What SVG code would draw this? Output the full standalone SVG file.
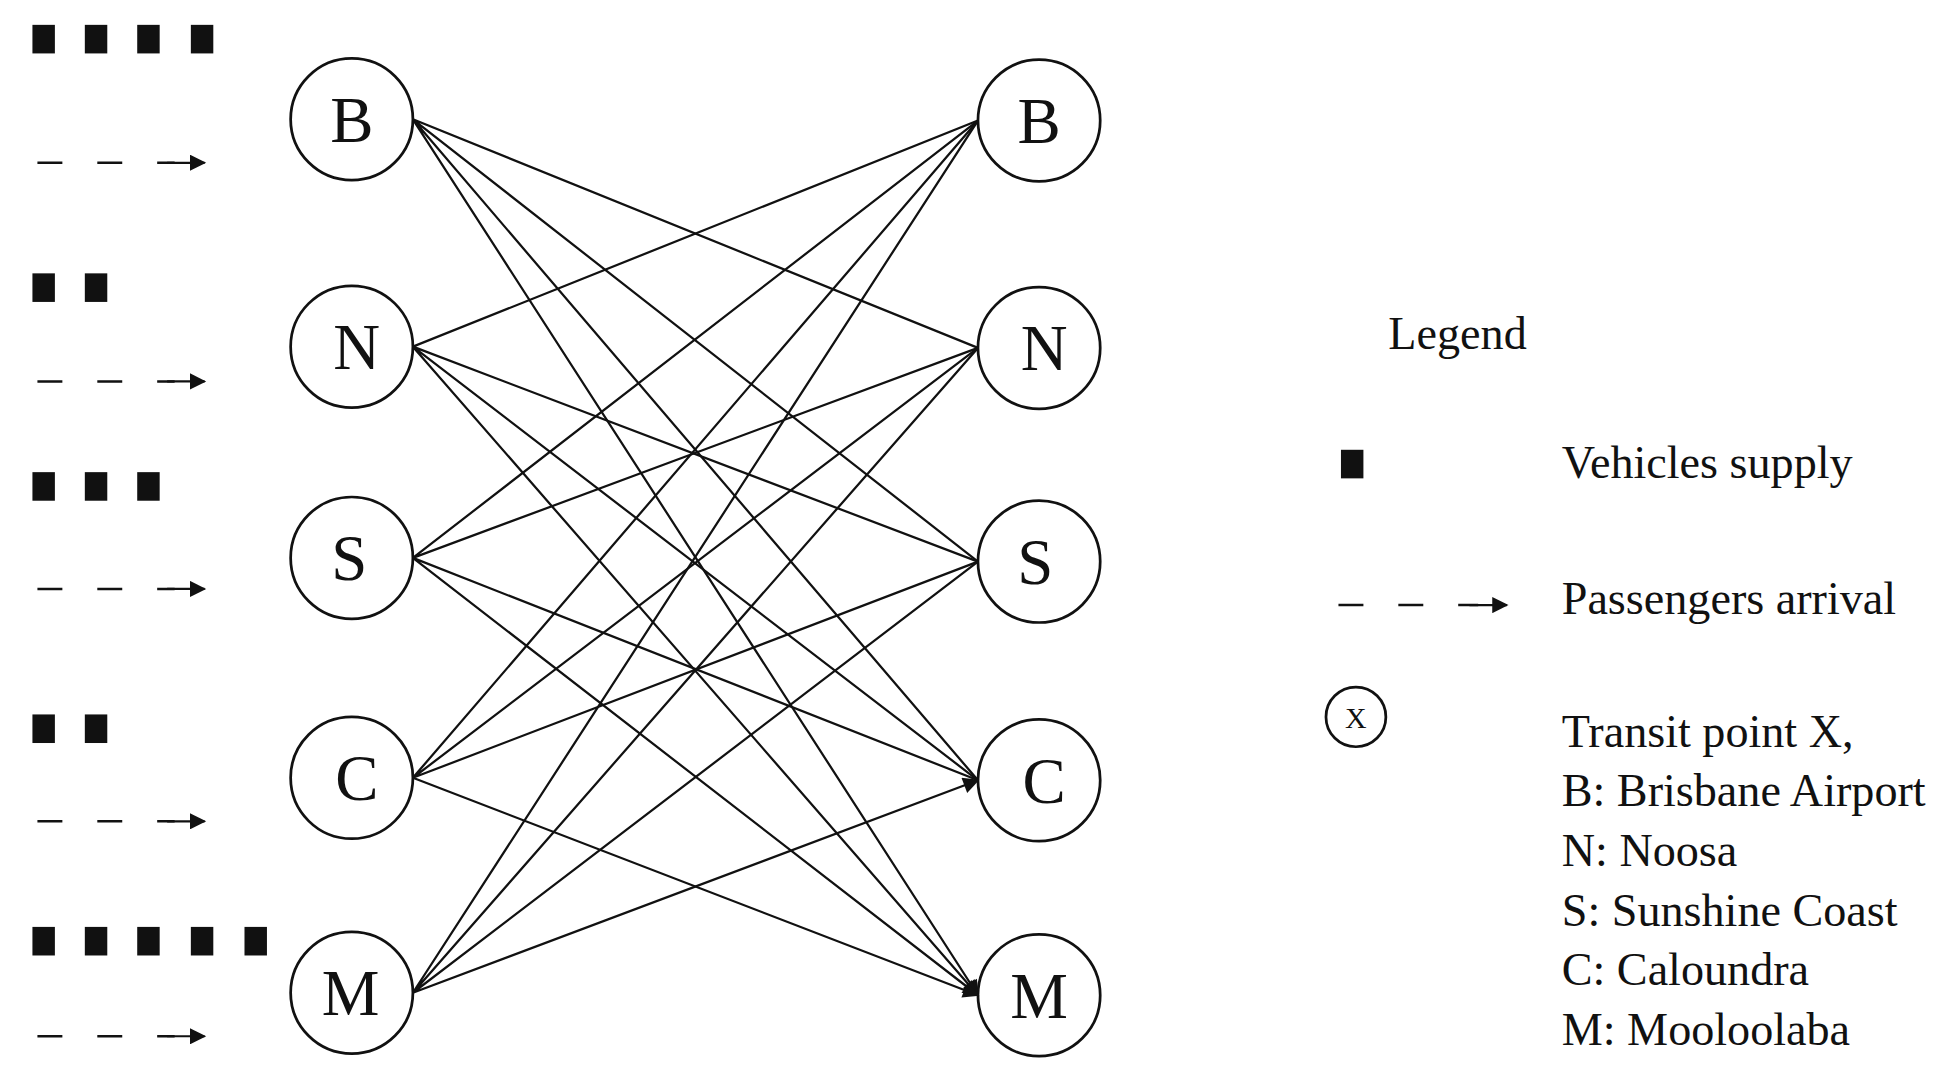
<svg xmlns="http://www.w3.org/2000/svg" width="1946" height="1081" viewBox="0 0 1946 1081">
<defs>
<style>
.n{fill:#fff;stroke:#111;stroke-width:2.2}
.t{font-family:"Liberation Serif",serif;fill:#111}
.nl{font-size:52px;text-anchor:middle}
.lg{font-size:37px}
.e{stroke:#111;stroke-width:1.8;fill:none;marker-end:url(#a)}
.d{stroke:#111;stroke-width:2;stroke-dasharray:20 28;fill:none}
.sq{fill:#111}
</style>
<marker id="a" viewBox="0 0 10 10" refX="9" refY="5" markerWidth="15" markerHeight="13" markerUnits="userSpaceOnUse" orient="auto"><path d="M0,0L10,5L0,10z" fill="#111"/></marker>
<marker id="b" viewBox="0 0 10 10" refX="9" refY="5" markerWidth="15" markerHeight="13" markerUnits="userSpaceOnUse" orient="auto"><path d="M0,0L10,5L0,10z" fill="#111"/></marker>
</defs>
<rect width="1946" height="1081" fill="#fff"/>
<g transform="scale(1.2474,1.2425)">
<g id="supply">
<rect class="sq" x="26" y="20" width="18" height="23"/><rect class="sq" x="68" y="20" width="18" height="23"/><rect class="sq" x="110" y="20" width="18" height="23"/><rect class="sq" x="153" y="20" width="18" height="23"/>
<rect class="sq" x="26" y="220" width="18" height="23"/><rect class="sq" x="68" y="220" width="18" height="23"/>
<rect class="sq" x="26" y="380" width="18" height="23"/><rect class="sq" x="68" y="380" width="18" height="23"/><rect class="sq" x="110" y="380" width="18" height="23"/>
<rect class="sq" x="26" y="575" width="18" height="23"/><rect class="sq" x="68" y="575" width="18" height="23"/>
<rect class="sq" x="26" y="746" width="18" height="23"/><rect class="sq" x="68" y="746" width="18" height="23"/><rect class="sq" x="110" y="746" width="18" height="23"/><rect class="sq" x="153" y="746" width="18" height="23"/><rect class="sq" x="196" y="746" width="18" height="23"/>
</g>
<g id="arrivals">
<path class="d" d="M30,131H140"/><path class="e" style="marker-end:url(#b)" d="M134,131H164"/>
<path class="d" d="M30,307H140"/><path class="e" style="marker-end:url(#b)" d="M134,307H164"/>
<path class="d" d="M30,474H140"/><path class="e" style="marker-end:url(#b)" d="M134,474H164"/>
<path class="d" d="M30,661H140"/><path class="e" style="marker-end:url(#b)" d="M134,661H164"/>
<path class="d" d="M30,834H140"/><path class="e" style="marker-end:url(#b)" d="M134,834H164"/>
</g>
<g id="LB"><circle class="n" cx="282" cy="96" r="49"/><text class="t nl" x="282" y="114">B</text></g>
<g id="LN"><circle class="n" cx="282" cy="279" r="49"/><text class="t nl" x="286" y="297">N</text></g>
<g id="LS"><circle class="n" cx="282" cy="449" r="49"/><text class="t nl" x="280" y="467">S</text></g>
<g id="LC"><circle class="n" cx="282" cy="626" r="49"/><text class="t nl" x="286" y="644">C</text></g>
<g id="LM"><circle class="n" cx="282" cy="799" r="49"/><text class="t nl" x="281" y="817">M</text></g>
<g id="RB"><circle class="n" cx="833" cy="97" r="49"/><text class="t nl" x="833" y="115">B</text></g>
<g id="RN"><circle class="n" cx="833" cy="280" r="49"/><text class="t nl" x="837" y="298">N</text></g>
<g id="RS"><circle class="n" cx="833" cy="452" r="49"/><text class="t nl" x="830" y="470">S</text></g>
<g id="RC"><circle class="n" cx="833" cy="628" r="49"/><text class="t nl" x="837" y="646">C</text></g>
<g id="RM"><circle class="n" cx="833" cy="801" r="49"/><text class="t nl" x="833" y="819">M</text></g>
<g id="connectors">
<path class="e" d="M331,96L784,280M331,96L784,452M331,96L784,628M331,96L784,801"/>
<path class="e" d="M331,279L784,97M331,279L784,452M331,279L784,628M331,279L784,801"/>
<path class="e" d="M331,449L784,97M331,449L784,280M331,449L784,628M331,449L784,801"/>
<path class="e" d="M331,626L784,97M331,626L784,280M331,626L784,452M331,626L784,801"/>
<path class="e" d="M331,799L784,97M331,799L784,280M331,799L784,452M331,799L784,628"/>
</g>
<g id="legend">
<text class="t lg" x="1113" y="281">Legend</text>
<rect class="sq" x="1075" y="362" width="18" height="23"/>
<text class="t lg" x="1252" y="385">Vehicles supply</text>
<path class="d" d="M1073,487H1185"/><path class="e" style="marker-end:url(#b)" d="M1178,487H1208"/>
<text class="t lg" x="1252" y="494">Passengers arrival</text>
<circle class="n" cx="1087" cy="577" r="24"/><text class="t" x="1087" y="586" font-size="24" text-anchor="middle">X</text>
<text class="t lg" x="1252" y="601">Transit point X,</text>
<text class="t lg" x="1252" y="649">B: Brisbane Airport</text>
<text class="t lg" x="1252" y="697">N: Noosa</text>
<text class="t lg" x="1252" y="745">S: Sunshine Coast</text>
<text class="t lg" x="1252" y="793">C: Caloundra</text>
<text class="t lg" x="1252" y="841">M: Mooloolaba</text>
</g>
</g>
</svg>
